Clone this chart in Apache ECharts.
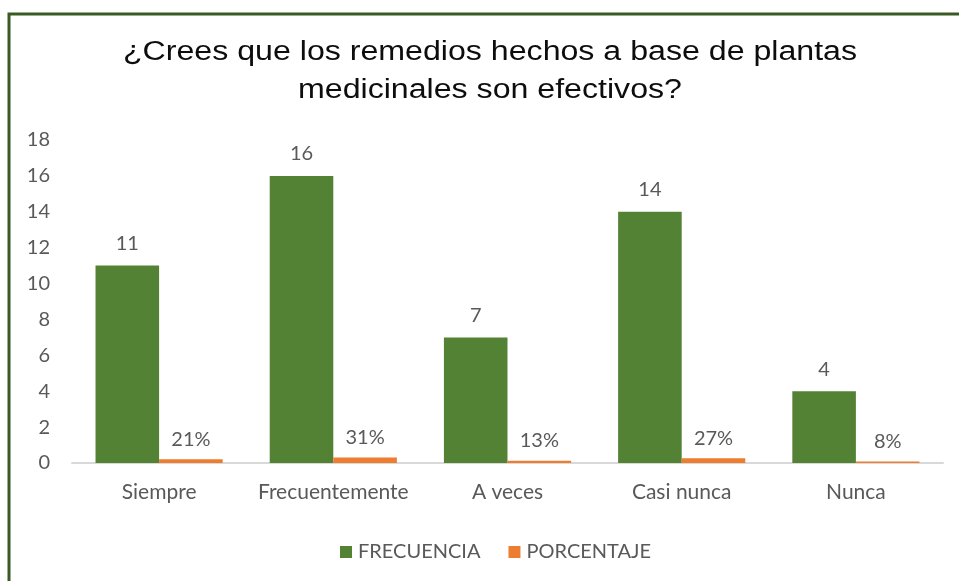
<!DOCTYPE html>
<html>
<head>
<meta charset="utf-8">
<script src="https://cdn.jsdelivr.net/npm/echarts@6/dist/echarts.min.js"></script>
<style>
    html, body { margin: 0; padding: 0; background: #fff; }
    #chart { width: 959px; height: 581px; }
</style>
</head>
<body>
<div id="chart"></div>
<script>
    // datos
    let titulo = ['¿Crees que los remedios hechos a base de plantas', 'medicinales son efectivos?'];
    let categorias = ['Siempre', 'Frecuentemente', 'A veces', 'Casi nunca', 'Nunca'];
    let frecuencia = [11, 16, 7, 14, 4];
    let porcentaje = [0.21, 0.31, 0.13, 0.27, 0.08];
    let ticksY = [0, 2, 4, 6, 8, 10, 12, 14, 16, 18];

    let gris = '#595959';
    let fuente = 'Lato, "Open Sans", sans-serif';

    // título en dos líneas, algo ensanchado como en el original
    let lineaTitulo = (txt, y) => ({
        type: 'text',
        x: 490,
        y: y,
        scaleX: 1.19,
        silent: true,
        style: {
            text: txt,
            fontFamily: '"Liberation Sans", Arial, sans-serif',
            fontSize: 27,
            fill: '#0d0d0d',
            textAlign: 'center',
            textVerticalAlign: 'middle'
        }
    });

    let chart = echarts.init(document.getElementById('chart'));
    chart.setOption({
        animation: false,
        graphic: [{
            type: 'rect',
            shape: { x: 9, y: 14, width: 1000, height: 1000 },
            style: { fill: 'none', stroke: '#3a5a24', lineWidth: 3 },
            silent: true
        },
            lineaTitulo(titulo[0], 53),
            lineaTitulo(titulo[1], 91)
        ],
        legend: {
            left: 335,
            top: 537,
            itemWidth: 12,
            itemHeight: 12,
            itemGap: 28,
            icon: 'rect',
            textStyle: { fontFamily: fuente, fontSize: 20, color: gris, padding: [0, 0, 0, 1] },
            data: ['FRECUENCIA', 'PORCENTAJE']
        },
        grid: { left: 72, right: 16, top: 140, bottom: 118 },
        xAxis: {
            type: 'category',
            data: categorias,
            axisLine: { lineStyle: { color: '#d9d9d9', width: 2 } },
            axisTick: { show: false },
            axisLabel: { fontFamily: fuente, fontSize: 21, color: gris, margin: 19, interval: 0 }
        },
        yAxis: {
            type: 'value',
            min: ticksY[0],
            max: ticksY[ticksY.length - 1],
            interval: 2,
            splitLine: { show: false },
            axisLine: { show: false },
            axisTick: { show: false },
            axisLabel: { fontFamily: fuente, fontSize: 20, color: gris, margin: 22 }
        },
        series: [{
            name: 'FRECUENCIA',
            type: 'bar',
            data: frecuencia,
            itemStyle: { color: '#548235' },
            barGap: '0%',
            barCategoryGap: '27%',
            label: {
                show: true,
                position: 'top',
                distance: 12,
                fontFamily: fuente,
                fontSize: 20,
                color: gris
            }
        }, {
            name: 'PORCENTAJE',
            type: 'bar',
            data: porcentaje,
            itemStyle: { color: '#ed7d31' },
            label: {
                show: true,
                position: 'top',
                distance: 10,
                fontFamily: fuente,
                fontSize: 20,
                color: gris,
                formatter: p => Math.round(p.value * 100) + '%'
            }
        }]
    });
</script>
</body>
</html>
